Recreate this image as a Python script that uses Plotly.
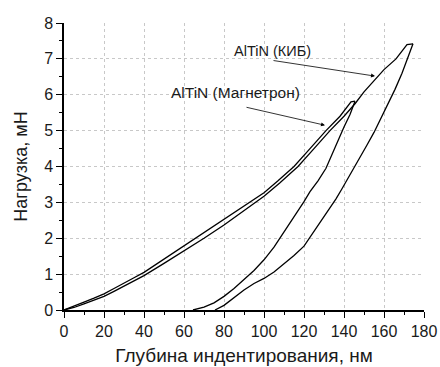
import plotly.graph_objects as go

# ---- data ----
mag_load_x = [0, 5, 10, 15, 20, 25, 30, 35, 40, 50, 60, 70, 80, 90, 100, 107, 115, 123, 131, 138, 143.5, 145.5]
mag_load_y = [0, 0.1, 0.22, 0.33, 0.45, 0.6, 0.74, 0.9, 1.05, 1.42, 1.8, 2.17, 2.52, 2.9, 3.27, 3.6, 4.0, 4.5, 5.0, 5.4, 5.8, 5.82]

mag_unload_x = [145.5, 143, 140, 137, 134, 131, 127, 123, 120, 115, 110, 105, 100, 95, 90, 85, 80, 75, 70, 64.5]
mag_unload_y = [5.82, 5.45, 5.1, 4.7, 4.3, 3.95, 3.6, 3.3, 3.02, 2.6, 2.15, 1.75, 1.4, 1.1, 0.85, 0.6, 0.38, 0.2, 0.08, 0]

kib_load_x = [0, 5, 10, 15, 20, 25, 30, 35, 40, 50, 60, 70, 80, 90, 100, 108, 117, 125, 133, 140, 145.5, 150, 155, 160, 166, 171.5, 174.5]
kib_load_y = [0, 0.07, 0.17, 0.27, 0.38, 0.52, 0.66, 0.81, 0.96, 1.3, 1.64, 2.0, 2.37, 2.77, 3.17, 3.55, 4.0, 4.5, 5.0, 5.4, 5.75, 6.08, 6.4, 6.7, 7.0, 7.4, 7.42]

kib_unload_x = [174.5, 172, 169, 165.5, 162, 158.5, 155, 151.5, 148, 145, 142, 139, 136, 133, 130, 126.5, 123, 120, 115, 110, 105, 100, 95, 90, 85, 80, 75.5]
kib_unload_y = [7.42, 7.05, 6.6, 6.15, 5.75, 5.35, 4.95, 4.6, 4.25, 3.95, 3.65, 3.38, 3.1, 2.85, 2.6, 2.3, 2.0, 1.78, 1.52, 1.3, 1.06, 0.88, 0.74, 0.56, 0.35, 0.13, 0]

x_title = "Глубина индентирования, нм"
y_title = "Нагрузка, мН"
label_kib = "AlTiN (КИБ)"
label_mag = "AlTiN (Магнетрон)"

FONT = "Liberation Sans, Arial, sans-serif"
line_style = dict(color="#000000", width=1.3)

fig = go.Figure()
for xs, ys in [(mag_load_x, mag_load_y), (mag_unload_x, mag_unload_y),
               (kib_load_x, kib_load_y), (kib_unload_x, kib_unload_y)]:
    fig.add_trace(go.Scatter(x=xs, y=ys, mode="lines", line=line_style,
                             showlegend=False, hoverinfo="skip"))

fig.add_annotation(x=155.5, y=6.52, ax=104, ay=6.96, xref="x", yref="y",
                   axref="x", ayref="y", text="", showarrow=True,
                   arrowhead=2, arrowsize=1, arrowwidth=0.8, arrowcolor="#000")
fig.add_annotation(x=130.5, y=5.15, ax=90.5, ay=5.66, xref="x", yref="y",
                   axref="x", ayref="y", text="", showarrow=True,
                   arrowhead=2, arrowsize=1, arrowwidth=0.8, arrowcolor="#000")
fig.add_annotation(x=104, y=7.22, xref="x", yref="y", text=label_kib,
                   showarrow=False, font=dict(family=FONT, size=14.5, color="#1a1a1a"))
fig.add_annotation(x=85.5, y=6.05, xref="x", yref="y", text=label_mag,
                   showarrow=False, font=dict(family=FONT, size=15.5, color="#1a1a1a"))

axis_common = dict(
    showline=True, linecolor="#000", linewidth=1.5,
    ticks="outside", ticklen=6, tickwidth=1.3, tickcolor="#000",
    showgrid=True, gridcolor="#c8c8c8", griddash="dot", gridwidth=1,
    zeroline=False, mirror=False,
    tickfont=dict(family=FONT, size=16, color="#1a1a1a"),
)

fig.update_xaxes(range=[0, 180], dtick=20, tick0=0,
                 minor=dict(dtick=10, ticks="outside", ticklen=3, tickcolor="#000", showgrid=False),
                 title=dict(text=x_title, font=dict(family=FONT, size=19, color="#1a1a1a"), standoff=10),
                 **axis_common)
fig.update_yaxes(range=[0, 8], dtick=1, tick0=0,
                 minor=dict(dtick=0.5, ticks="outside", ticklen=3, tickcolor="#000", showgrid=False),
                 title=dict(text=y_title, font=dict(family=FONT, size=18, color="#1a1a1a"), standoff=12),
                 **axis_common)

fig.update_layout(
    width=440, height=367,
    margin=dict(l=64, r=16, t=23, b=57, autoexpand=False),
    plot_bgcolor="white", paper_bgcolor="white",
)

fig.write_html("out.html", config={"displayModeBar": False},
               post_script="document.body.style.margin='0';document.body.style.padding='0';document.body.style.overflow='hidden';")
